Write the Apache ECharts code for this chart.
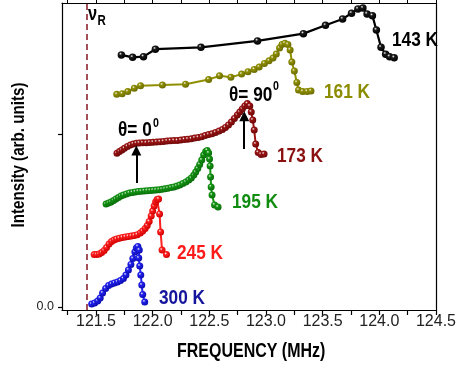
<!DOCTYPE html>
<html>
<head>
<meta charset="utf-8">
<script src="https://cdn.jsdelivr.net/npm/echarts@6/dist/echarts.min.js"></script>
<style>
  html, body { margin: 0; padding: 0; background: #fff; }
  #chart { width: 459px; height: 368px; }
</style>
</head>
<body>
<div id="chart"></div>
<script>
// NMR spectra at several temperatures, offset vertically (arbitrary units)
const freq143 = [121.724,121.823,121.919,122.024,122.426,122.925,123.330,123.525,123.676,123.755,123.811,123.855,123.892,123.939,123.974,124.015,124.056,124.091,124.131];
const int143  = [1.457,1.443,1.447,1.490,1.501,1.538,1.580,1.628,1.665,1.698,1.723,1.728,1.694,1.684,1.601,1.501,1.461,1.447,1.441];

const freq161 = [121.683,121.731,121.780,121.838,121.893,122.086,122.290,122.494,122.590,122.690,122.785,122.841,122.896,122.940,122.986,123.027,123.062,123.091,123.120,123.141,123.167,123.193,123.213,123.228,123.250,123.272,123.287,123.324,123.363,123.397];
const int161  = [1.229,1.233,1.245,1.264,1.279,1.283,1.288,1.315,1.336,1.328,1.346,1.360,1.373,1.387,1.408,1.423,1.439,1.462,1.497,1.517,1.524,1.517,1.486,1.416,1.364,1.298,1.254,1.246,1.246,1.249];

const freq173 = [121.685,121.707,121.729,121.751,121.777,121.803,121.829,121.856,121.882,121.912,121.943,121.974,122.004,122.035,122.065,122.096,122.127,122.157,122.188,122.218,122.249,122.280,122.310,122.341,122.371,122.402,122.433,122.463,122.494,122.524,122.555,122.586,122.616,122.642,122.669,122.695,122.721,122.747,122.769,122.791,122.813,122.835,122.857,122.870,122.883,122.896,122.909,122.931,122.957,122.983];
const int173  = [0.888,0.899,0.908,0.917,0.928,0.936,0.942,0.946,0.948,0.949,0.949,0.951,0.952,0.954,0.955,0.957,0.960,0.961,0.962,0.962,0.965,0.968,0.970,0.972,0.977,0.980,0.984,0.991,0.997,1.001,1.009,1.017,1.026,1.038,1.052,1.069,1.090,1.110,1.127,1.145,1.162,1.176,1.162,1.127,1.081,1.023,0.942,0.893,0.882,0.884];

const freq195 = [121.589,121.611,121.633,121.655,121.676,121.698,121.720,121.742,121.768,121.794,121.821,121.847,121.873,121.899,121.926,121.952,121.978,122.004,122.030,122.057,122.083,122.109,122.135,122.162,122.188,122.214,122.240,122.266,122.293,122.319,122.341,122.363,122.380,122.398,122.415,122.433,122.450,122.468,122.481,122.494,122.502,122.507,122.511,122.516,122.524,122.546,122.577];
const int195  = [0.595,0.601,0.607,0.616,0.624,0.633,0.642,0.647,0.653,0.659,0.662,0.665,0.668,0.669,0.671,0.672,0.673,0.675,0.676,0.678,0.680,0.683,0.686,0.690,0.694,0.699,0.705,0.714,0.723,0.734,0.746,0.763,0.780,0.801,0.824,0.850,0.879,0.899,0.905,0.890,0.855,0.815,0.751,0.694,0.647,0.590,0.578];

const freq245 = [121.484,121.506,121.528,121.550,121.572,121.593,121.615,121.637,121.659,121.681,121.707,121.733,121.759,121.786,121.812,121.838,121.864,121.891,121.912,121.934,121.952,121.969,121.987,122.000,122.013,122.026,122.039,122.052,122.061,122.070,122.083,122.122];
const int245  = [0.303,0.303,0.306,0.315,0.327,0.344,0.364,0.379,0.387,0.393,0.398,0.402,0.405,0.408,0.410,0.413,0.418,0.428,0.439,0.454,0.471,0.494,0.526,0.555,0.584,0.607,0.621,0.624,0.538,0.434,0.329,0.303];

const freq300 = [121.462,121.488,121.515,121.537,121.558,121.585,121.611,121.637,121.663,121.690,121.716,121.742,121.764,121.786,121.808,121.825,121.843,121.856,121.869,121.882,121.877,121.886,121.895,121.904,121.912,121.930];
const int300  = [0.017,0.023,0.035,0.052,0.081,0.107,0.124,0.133,0.139,0.145,0.153,0.165,0.185,0.214,0.246,0.280,0.318,0.341,0.350,0.329,0.283,0.237,0.185,0.127,0.072,0.029];

const xTickLabels = [121.5, 122.0, 122.5, 123.0, 123.5, 124.0, 124.5];
const xTicks = [121.25, 121.5, 121.75, 122.0, 122.25, 122.5, 122.75, 123.0, 123.25, 123.5, 123.75, 124.0, 124.25, 124.5];
const yTicks = [0, 1];

// reference (Larmor) frequency and the two field-orientation markers
const nuR = 121.42;
const arrow0 = { freq: 121.856, from: 0.717, to: 0.905 };
const arrow90 = { freq: 122.808, from: 0.913, to: 1.102 };

const SANS = "'Liberation Sans', Arial, sans-serif";
const SQUEEZE = 0.82;   // condensed look of the bold annotation text

function zip(f, v) { return f.map((x, i) => [x, v[i]]); }

function ball(c, dark) {
  return {
    type: 'radial', x: 0.38, y: 0.34, r: 0.66,
    colorStops: [
      { offset: 0, color: '#f4f4f4' },
      { offset: 0.3, color: c },
      { offset: 1, color: dark }
    ]
  };
}

function spectrum(name, f, v, c, dark, extra) {
  return Object.assign({
    name: name,
    type: 'line',
    data: zip(f, v),
    symbol: 'circle',
    symbolSize: 7,
    showAllSymbol: true,
    lineStyle: { color: c, width: 2 },
    itemStyle: { color: ball(c, dark) },
    emphasis: { disabled: true },
    animation: false,
    z: 3
  }, extra || {});
}

// condensed bold text, anchored at its left edge / vertical middle
function label(text, x, y, color, size) {
  return {
    type: 'text', x: x, y: y, scaleX: SQUEEZE, z: 10,
    style: { text: text, fill: color, font: 'bold ' + size + 'px ' + SANS, textAlign: 'left', textVerticalAlign: 'middle' }
  };
}

const chart = echarts.init(document.getElementById('chart'), null, { renderer: 'canvas' });

const axisLineStyle = { color: '#000', width: 1.2 };

chart.setOption({
  animation: false,
  grid: { left: 62, right: 19, top: 3, bottom: 58, containLabel: false },
  xAxis: [{
    type: 'value', min: 121.2, max: 124.5, position: 'bottom',
    axisLine: { show: true, onZero: false, lineStyle: axisLineStyle },
    axisTick: { show: true, customValues: xTicks, length: 5, inside: false, lineStyle: { color: '#000', width: 1.2 } },
    axisLabel: { customValues: xTickLabels, formatter: v => v.toFixed(1), fontFamily: SANS, fontSize: 16, color: '#222', margin: 4 },
    splitLine: { show: false }
  }, {
    type: 'value', min: 121.2, max: 124.5, position: 'top',
    axisLine: { show: true, onZero: false, lineStyle: axisLineStyle },
    axisTick: { show: true, customValues: xTicks, length: 3, lineStyle: { color: '#000', width: 1 } },
    axisLabel: { show: false },
    splitLine: { show: false }
  }],
  yAxis: [{
    type: 'value', min: -0.0173, max: 1.757, position: 'left',
    axisLine: { show: true, onZero: false, lineStyle: axisLineStyle },
    axisTick: { show: true, customValues: yTicks, length: 4, lineStyle: { color: '#000', width: 1.2 } },
    axisLabel: { customValues: [0], formatter: v => v.toFixed(1), fontFamily: SANS, fontSize: 12.5, color: '#222', margin: 8 },
    splitLine: { show: false }
  }, {
    type: 'value', min: -0.0173, max: 1.757, position: 'right',
    axisLine: { show: true, onZero: false, lineStyle: axisLineStyle },
    axisTick: { show: false },
    axisLabel: { show: false },
    splitLine: { show: false }
  }],
  series: [
    spectrum('143 K', freq143, int143, '#1a1a1a', '#000000', { symbolSize: 7.5, lineStyle: { color: '#000', width: 2.2 } }),
    spectrum('161 K', freq161, int161, '#8f8f00', '#6b6b00'),
    spectrum('173 K', freq173, int173, '#9a1414', '#6e0808'),
    spectrum('195 K', freq195, int195, '#139413', '#0a6e0a'),
    spectrum('245 K', freq245, int245, '#ff2020', '#d00000'),
    spectrum('300 K', freq300, int300, '#2222ee', '#0c0cb0'),
    {
      name: 'markers', type: 'line', data: [], z: 6, animation: false,
      markLine: {
        silent: true, animation: false,
        symbol: ['none', 'triangle'],
        symbolSize: 10,
        label: { show: false },
        itemStyle: { color: '#000' },
        lineStyle: { color: '#000', width: 2, type: 'solid' },
        data: [
          [{ coord: [arrow0.freq, arrow0.from] }, { coord: [arrow0.freq, arrow0.to] }],
          [{ coord: [arrow90.freq, arrow90.from] }, { coord: [arrow90.freq, arrow90.to] }]
        ]
      }
    },
    {
      name: 'nuR', type: 'line', data: [], z: 2, animation: false,
      markLine: {
        silent: true, animation: false,
        symbol: ['none', 'none'],
        label: { show: false },
        lineStyle: { color: '#8e2330', width: 1.6, type: [6, 4] },
        data: [{ xAxis: nuR }]
      }
    }
  ],
  graphic: [
    label('143 K', 392, 40.5, '#000', 21),
    label('161 K', 324, 92, '#8c8c00', 21),
    label('173 K', 277, 156.5, '#8b1010', 21),
    label('195 K', 232, 202.5, '#108c10', 21),
    label('245 K', 177, 253.5, '#ff1a1a', 21),
    label('300 K', 159, 298, '#14149c', 21),
    label('θ= 0', 118, 130, '#000', 21),
    label('0', 153, 123, '#000', 13),
    label('θ= 90', 229, 95, '#000', 21),
    label('0', 273, 86, '#000', 13),
    label('ν', 88, 14, '#000', 20),
    label('R', 97.5, 21.5, '#000', 14),
    label('FREQUENCY (MHz)', 177, 352, '#000', 19.5),
    {
      type: 'text', x: 19, y: 155, rotation: Math.PI / 2, scaleX: SQUEEZE,
      style: { text: 'Intensity (arb. units)', fill: '#000', font: 'bold 18.5px ' + SANS, textAlign: 'center', textVerticalAlign: 'middle' }
    }
  ]
});
</script>
</body>
</html>
